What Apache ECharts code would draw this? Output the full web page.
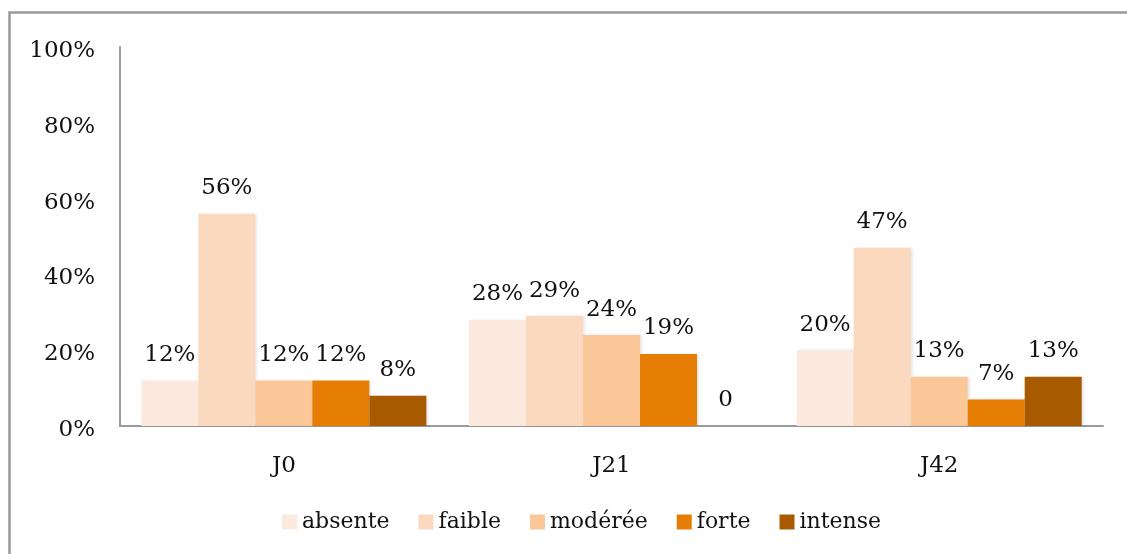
<!DOCTYPE html>
<html>
<head>
<meta charset="utf-8">
<script src="https://cdn.jsdelivr.net/npm/echarts@6/dist/echarts.min.js"></script>
<style>
  html, body { margin: 0; padding: 0; background: #fff; }
  #chart { width: 1127px; height: 554px; }
</style>
</head>
<body>
<div id="chart"></div>
<script>
const categories = ['J0', 'J21', 'J42']
const seriesNames = ['absente', 'faible', 'modérée', 'forte', 'intense']
const absente = [12, 28, 20]
const faible = [56, 29, 47]
const moderee = [12, 24, 13]
const forte = [12, 19, 7]
const intense = [8, 0, 13]
const yTicks = [0, 20, 40, 60, 80, 100]

const colors = ['#fbe9dd', '#fbd9bf', '#fbc799', '#e67e06', '#a75a00']
const font = 'DejaVu Serif'

const chart = echarts.init(document.getElementById('chart'))

function makeSeries(name, data, color) {
  return {
    name: name,
    type: 'bar',
    data: data,
    barGap: '0%',
    barCategoryGap: '13%',
    itemStyle: {
      color: color,
      shadowColor: 'rgba(0, 0, 0, 0.12)',
      shadowBlur: 3,
      shadowOffsetX: 2,
    },
    label: {
      show: true,
      position: 'top',
      distance: 14,
      fontFamily: font,
      fontSize: 23,
      color: '#111',
      formatter(p) {
        return p.value === 0 ? '0' : p.value + '%'
      },
    },
  }
}

chart.setOption({
  animation: false,
  color: colors,
  graphic: [
    {
      type: 'rect',
      shape: { x: 9.5, y: 12.5, width: 2000, height: 2000 },
      style: { fill: 'none', stroke: '#9a9a9a', lineWidth: 2.5 },
      silent: true,
    },
  ],
  grid: {
    left: 120,
    right: 24,
    top: 47,
    bottom: 128,
  },
  legend: {
    left: 277,
    top: 506,
    itemWidth: 15,
    itemHeight: 15,
    itemGap: 29,
    icon: 'rect',
    textStyle: { fontFamily: font, fontSize: 22, color: '#111' },
    data: seriesNames,
  },
  xAxis: {
    type: 'category',
    data: categories,
    axisLine: { lineStyle: { color: '#9a9a9a', width: 2 } },
    axisTick: { show: false },
    axisLabel: { fontFamily: font, fontSize: 23, color: '#111', margin: 29 },
  },
  yAxis: {
    type: 'value',
    min: yTicks[0],
    max: yTicks[yTicks.length - 1],
    interval: 20,
    axisLine: { show: true, lineStyle: { color: '#9a9a9a', width: 2 } },
    axisTick: { show: false },
    splitLine: { show: false },
    axisLabel: {
      margin: 25,
      formatter: (v) => '{a|' + v + '%}',
      rich: {
        a: {
          fontFamily: font,
          fontSize: 23,
          color: '#111',
          padding: [8, 0, 0, 0],
        },
      },
    },
  },
  series: [
    makeSeries(seriesNames[0], absente, colors[0]),
    makeSeries(seriesNames[1], faible, colors[1]),
    makeSeries(seriesNames[2], moderee, colors[2]),
    makeSeries(seriesNames[3], forte, colors[3]),
    makeSeries(seriesNames[4], intense, colors[4]),
  ],
})
</script>
</body>
</html>
